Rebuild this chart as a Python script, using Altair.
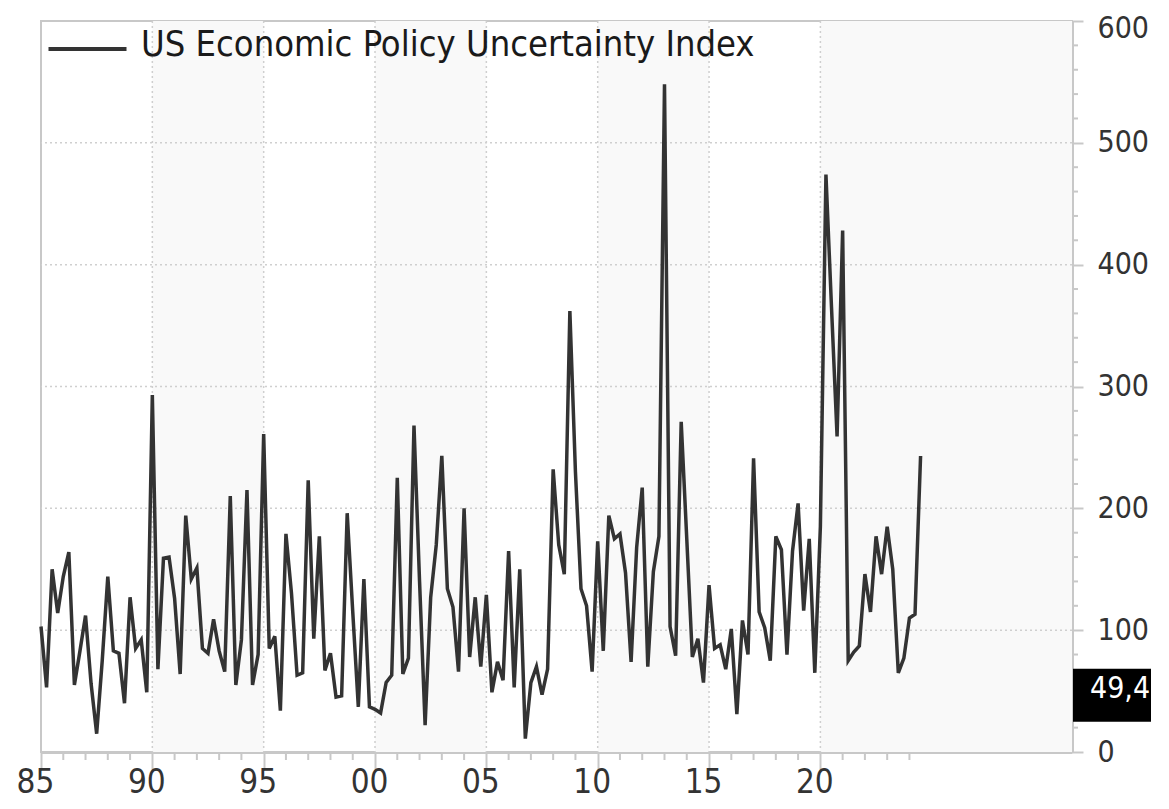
import altair as alt
import pandas as pd

# ---------------- data ----------------
start_year = 1985          # first quarter: 1985 Q1
quarter_step = 0.25
epu_values = [
    103, 53, 150, 114, 144, 164, 55, 83, 112, 56,
    15, 75, 144, 83, 81, 40, 127, 85, 92, 49,
    293, 68, 159, 160, 126, 64, 194, 142, 151, 85,
    81, 109, 83, 66, 210, 55, 92, 215, 55, 80,
    261, 85, 95, 34, 179, 130, 63, 65, 223, 93,
    177, 67, 81, 45, 46, 196, 115, 37, 142, 37,
    35, 32, 57, 63, 225, 64, 77, 268, 140, 22,
    127, 170, 243, 134, 119, 66, 200, 78, 127, 70,
    129, 49, 74, 59, 165, 53, 150, 11, 57, 70,
    47, 68, 232, 170, 146, 362, 230, 134, 120, 66,
    173, 83, 194, 175, 179, 147, 74, 168, 217, 70,
    148, 177, 548, 103, 79, 271, 175, 78, 93, 57,
    137, 85, 88, 68, 101, 31, 108, 80, 241, 115,
    102, 75, 177, 166, 80, 165, 204, 116, 175, 65,
    185, 474, 365, 259, 428, 75, 82, 87, 146, 115,
    177, 146, 185, 150, 65, 77, 110, 113, 243,
]
series_name = "US Economic Policy Uncertainty Index"

band_starts = [1990, 2000, 2010, 2020]
band_ends = [1995, 2005, 2015, 2031.3]
x_grid_years = [1990, 1995, 2000, 2005, 2010, 2015, 2020]
y_grid_values = [100, 200, 300, 400, 500]
x_major_years = [1985, 1990, 1995, 2000, 2005, 2010, 2015, 2020]
x_minor_years = [y for y in range(1985, 2025) if y % 5 != 0]
y_major_values = [0, 100, 200, 300, 400, 500, 600]
y_minor_values = [v for v in range(0, 601, 20) if v % 100 != 0]
x_domain = [1985, 2031.3]
y_domain = [0, 600]

latest_value = [49.4]
latest_label = ["49,4"]

# ---------------- styling ----------------
W, H = 1031, 731
FONT = "Liberation Sans Narrow, DejaVu Sans Condensed, Arial Narrow, sans-serif"
AXIS_GREY = "#c8c8c8"
GRID_GREY = "#cfcfcf"
LINE_COL = "#333333"

xs = alt.Scale(domain=x_domain, nice=False, zero=False)
ys = alt.Scale(domain=y_domain, nice=False, zero=True)

line_df = pd.DataFrame({
    "year": [start_year + quarter_step * i for i in range(len(epu_values))],
    "value": epu_values,
})

x_axis = alt.Axis(
    values=x_major_years,
    labelExpr="slice(toString(datum.value), 2)",
    tickSize=17,
    tickColor=AXIS_GREY, tickWidth=2,
    domainColor=AXIS_GREY, domainWidth=3,
    grid=False, title=None,
    labelFont=FONT, labelFontSize=33, labelColor="#333333",
    labelPadding=-3, labelOffset=-6, labelFlush=False, labelOverlap=False,
)
y_axis = alt.Axis(
    orient="right",
    values=y_major_values,
    format="d",
    tickSize=11,
    tickColor=AXIS_GREY, tickWidth=2,
    domainColor=AXIS_GREY, domainWidth=3,
    grid=False, title=None,
    labelFont=FONT, labelFontSize=30, labelColor="#333333",
    labelPadding=14, labelAlign="left", labelBaseline="middle",
    labelOffset={"condition": {"test": "datum.value === 600", "value": 7}, "value": 0},
    labelFlush=False, labelOverlap=False,
)

bands = alt.Chart(pd.DataFrame({"start": band_starts, "end": band_ends})).mark_rect(
    color="#f9f9f9"
).encode(
    x=alt.X("start:Q", scale=xs, axis=x_axis),
    x2="end:Q",
    y=alt.value(0),
    y2=alt.value(H),
)

vgrid = alt.Chart(pd.DataFrame({"year": x_grid_years})).mark_rule(
    color=GRID_GREY, strokeDash=[2, 3], strokeWidth=1.5
).encode(x=alt.X("year:Q", scale=xs, axis=x_axis))

hgrid = alt.Chart(pd.DataFrame({"value": y_grid_values})).mark_rule(
    color=GRID_GREY, strokeDash=[2, 3], strokeWidth=1.5
).encode(y=alt.Y("value:Q", scale=ys, axis=y_axis))

x_minor = alt.Chart(pd.DataFrame({"year": x_minor_years})).mark_rule(
    color=AXIS_GREY, strokeWidth=2
).encode(
    x=alt.X("year:Q", scale=xs, axis=x_axis),
    y=alt.value(H), y2=alt.value(H + 8),
)
y_minor = alt.Chart(pd.DataFrame({"value": y_minor_values})).mark_rule(
    color=AXIS_GREY, strokeWidth=2
).encode(
    y=alt.Y("value:Q", scale=ys, axis=y_axis),
    x=alt.value(W), x2=alt.value(W + 6),
)

line = alt.Chart(line_df).mark_line(color=LINE_COL, strokeWidth=3.5).encode(
    x=alt.X("year:Q", scale=xs, axis=x_axis),
    y=alt.Y("value:Q", scale=ys, axis=y_axis),
)

legend_df = pd.DataFrame({"label": [series_name]})
legend_line = alt.Chart(legend_df).mark_rule(color=LINE_COL, strokeWidth=4).encode(
    x=alt.value(7.5), x2=alt.value(85.5), y=alt.value(28)
)
legend_text = alt.Chart(legend_df).mark_text(
    align="left", baseline="alphabetic", font=FONT, fontSize=36, color="#1a1a1a"
).encode(x=alt.value(100), y=alt.value(35), text="label:N")

box_df = pd.DataFrame({"v": latest_value, "t": latest_label})
box = alt.Chart(box_df).mark_rect(color="#000000", yOffset=-23, y2Offset=30).encode(
    x=alt.value(W + 1), x2=alt.value(W + 79),
    y=alt.Y("v:Q", scale=ys, axis=y_axis), y2="v:Q",
)
box_text = alt.Chart(box_df).mark_text(
    align="left", baseline="middle", font=FONT, fontSize=30, color="#ffffff", dy=-3
).encode(
    x=alt.value(W + 18),
    y=alt.Y("v:Q", scale=ys, axis=y_axis),
    text="t:N",
)

chart = alt.layer(
    bands, vgrid, hgrid, x_minor, y_minor, line, legend_line, legend_text, box, box_text
).properties(
    width=W, height=H,
    padding={"left": 33, "top": 13, "right": 89, "bottom": 49},
    autosize="none",
).configure(
    background="#ffffff"
).configure_view(
    stroke=AXIS_GREY, strokeWidth=2
)

chart.save("out.html", embed_options={"renderer": "svg", "actions": False})
